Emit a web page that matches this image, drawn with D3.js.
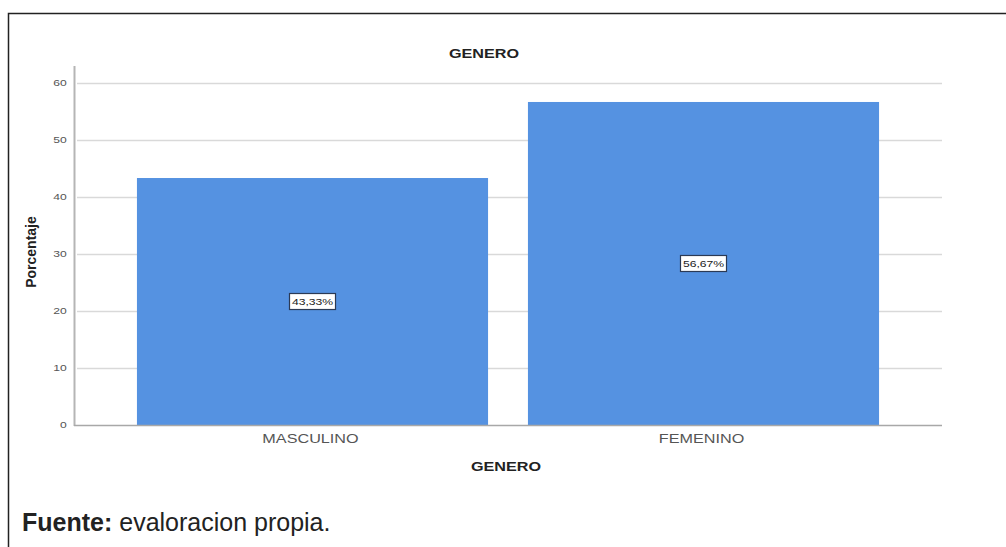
<!DOCTYPE html>
<html>
<head>
<meta charset="utf-8">
<script src="https://cdn.jsdelivr.net/npm/d3@7"></script>
<style>
  html, body { margin: 0; padding: 0; background: #fff; }
  svg { display: block; font-family: Arial, "Liberation Sans", sans-serif; }
</style>
</head>
<body>
<svg id="chart" width="1006" height="547"></svg>
<script>
// Gender distribution (percent of respondents)
const categories = ["MASCULINO", "FEMENINO"];
const values = [43.33, 56.67];
const valueLabels = ["43,33%", "56,67%"];
const yTicks = [0, 10, 20, 30, 40, 50, 60];

const svg = d3.select("#chart");
const W = 1006, H = 547;

// plot area
const x0 = 74, x1 = 942, yTop = 83, yBottom = 425;
const stretch = 1.35; // chart lettering is drawn wide

const x = d3.scaleBand()
  .domain(categories)
  .range([x0, x1])
  .paddingInner(0.102)
  .paddingOuter(0.161);

const y = d3.scaleLinear().domain([0, 60]).range([yBottom, yTop]);

// page frame
svg.append("path")
  .attr("d", `M${W + 2},13.5 H8.5 V${H + 2}`)
  .attr("fill", "none")
  .attr("stroke", "#222")
  .attr("stroke-width", 1.5);

// gridlines
svg.append("g")
  .selectAll("line")
  .data(yTicks.filter(d => d > 0))
  .join("line")
  .attr("x1", x0 + 3).attr("x2", x1)
  .attr("y1", d => Math.round(y(d)) + 0.5)
  .attr("y2", d => Math.round(y(d)) + 0.5)
  .attr("stroke", "#d9d9d9")
  .attr("stroke-width", 1.5);

// bars
svg.append("g")
  .selectAll("rect")
  .data(values)
  .join("rect")
  .attr("x", (d, i) => x(categories[i]))
  .attr("y", d => y(d))
  .attr("width", x.bandwidth())
  .attr("height", d => yBottom - y(d))
  .attr("fill", "#5592e1");

// y axis
const yAxis = d3.axisLeft(y).tickValues(yTicks).tickSize(0).tickPadding(7).tickFormat(d3.format("d"));
const gy = svg.append("g").attr("transform", `translate(${x0},0)`).call(yAxis);
gy.select(".domain").remove();
gy.selectAll("text")
  .attr("font-size", 9)
  .attr("fill", "#555")
  .attr("font-family", "Arial, 'Liberation Sans', sans-serif")
  .attr("transform", `translate(-6,0) scale(${stretch},1) translate(6,0)`);
svg.append("line")
  .attr("x1", x0 + 0.5).attr("x2", x0 + 0.5)
  .attr("y1", 66).attr("y2", yBottom + 1)
  .attr("stroke", "#b5b5b5").attr("stroke-width", 2);

// x axis baseline
svg.append("line")
  .attr("x1", x0).attr("x2", x1)
  .attr("y1", yBottom + 0.5).attr("y2", yBottom + 0.5)
  .attr("stroke", "#a8a8a8").attr("stroke-width", 1.5);

// helper for stretched chart text
function wideText(g, tx, ty, str, size, weight, fill) {
  g.append("text")
    .attr("transform", `translate(${tx},${ty}) scale(${stretch},1)`)
    .attr("text-anchor", "middle")
    .attr("font-size", size)
    .attr("font-weight", weight)
    .attr("fill", fill)
    .text(str);
}

// category labels
categories.forEach(c => {
  wideText(svg, x(c) + x.bandwidth() / 2 - 2, 443, c, 12, "normal", "#555");
});

// value labels in boxes at bar mid-height
values.forEach((v, i) => {
  const cx = x(categories[i]) + x.bandwidth() / 2;
  const cy = y(v / 2);
  const g = svg.append("g");
  g.append("rect")
    .attr("x", cx - 23).attr("y", cy - 8)
    .attr("width", 46).attr("height", 16)
    .attr("fill", "#fff")
    .attr("stroke", "#2b3a55")
    .attr("stroke-width", 1.2);
  wideText(g, cx, cy + 3.5, valueLabels[i], 9, "normal", "#222");
});

// titles
wideText(svg, 484, 58, "GENERO", 12, "bold", "#222");
wideText(svg, 506, 471, "GENERO", 12, "bold", "#222");

svg.append("text")
  .attr("transform", `translate(36,252) rotate(-90)`)
  .attr("text-anchor", "middle")
  .attr("font-size", 14)
  .attr("font-weight", "bold")
  .attr("fill", "#222")
  .text("Porcentaje");

// source note
const note = svg.append("text")
  .attr("x", 22).attr("y", 531)
  .attr("font-size", 25)
  .attr("fill", "#222");
note.append("tspan").attr("font-weight", "bold").text("Fuente:");
note.append("tspan").text(" evaloracion propia.");
</script>
</body>
</html>
